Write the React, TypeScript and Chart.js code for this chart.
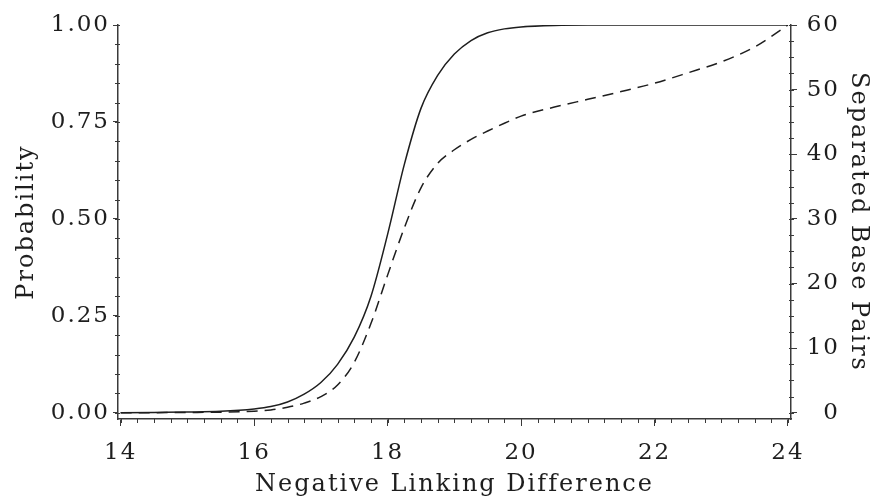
import React, { useEffect, useRef } from "react";
import { Chart, registerables } from "chart.js";

Chart.register(...registerables);

// ---- data ----
const X_VALUES = [14, 14.5, 15, 15.5, 16, 16.25, 16.5, 16.75, 17, 17.25, 17.5, 17.75, 18, 18.25, 18.5, 18.75, 19, 19.25, 19.5, 19.75, 20, 20.5, 21, 21.5, 22, 22.5, 23, 23.5, 24];
const PROBABILITY = [0, 0.001, 0.002, 0.004, 0.01, 0.016, 0.028, 0.048, 0.078, 0.125, 0.195, 0.3, 0.46, 0.64, 0.785, 0.87, 0.925, 0.96, 0.98, 0.99, 0.995, 0.999, 1, 1, 1, 1, 1, 1, 1];
const BASE_PAIRS = [0, 0.02, 0.05, 0.1, 0.25, 0.45, 0.85, 1.5, 2.5, 4.3, 7.8, 13.8, 21.3, 28.6, 34.8, 38.6, 40.7, 42.3, 43.6, 44.8, 45.9, 47.3, 48.5, 49.7, 51.0, 52.6, 54.3, 56.6, 60];

const X_TICKS = [14, 16, 18, 20, 22, 24];
const PROB_TICKS = [0, 0.25, 0.5, 0.75, 1];
const BP_TICKS = [0, 10, 20, 30, 40, 50, 60];

const X_TITLE = "Negative Linking Difference";
const LEFT_TITLE = "Probability";
const RIGHT_TITLE = "Separated Base Pairs";

const INK = "#1e1e1e";
const AXIS = "#3a3a3a";
const FONT = "'DejaVu Serif', 'Liberation Serif', serif";
const SPACING = "2px";

const letterSpacing = {
  id: "letterSpacing",
  beforeUpdate(chart: any) {
    (chart.ctx as any).letterSpacing = SPACING;
  },
  beforeLayout(chart: any) {
    (chart.ctx as any).letterSpacing = SPACING;
  },
  beforeDraw(chart: any) {
    (chart.ctx as any).letterSpacing = SPACING;
  },
};

const minorTicks = {
  id: "minorTicks",
  afterDraw(chart: any) {
    const { ctx, chartArea, scales } = chart;
    ctx.save();
    ctx.strokeStyle = AXIS;
    ctx.lineWidth = 1;
    ctx.beginPath();
    for (let i = 0; i <= 40; i++) {
      const v = 14 + i * 0.25;
      const px = Math.round(scales.x.getPixelForValue(v)) + 0.5;
      ctx.moveTo(px, chartArea.bottom);
      ctx.lineTo(px, chartArea.bottom + 4);
    }
    for (let i = 0; i <= 20; i++) {
      const v = i * 0.05;
      const py = Math.round(scales.y.getPixelForValue(v)) + 0.5;
      ctx.moveTo(chartArea.left - 3, py);
      ctx.lineTo(chartArea.left + 2, py);
    }
    for (let i = 0; i <= 24; i++) {
      const v = i * 2.5;
      const py = Math.round(scales.y2.getPixelForValue(v)) + 0.5;
      ctx.moveTo(chartArea.right - 2, py);
      ctx.lineTo(chartArea.right + 3, py);
    }
    ctx.stroke();
    ctx.restore();
  },
};

export default function App() {
  const canvasRef = useRef<HTMLCanvasElement | null>(null);

  useEffect(() => {
    const canvas = canvasRef.current;
    if (!canvas) return;
    const tickFont = { family: FONT, size: 23, lineHeight: 1 };
    const titleFont = { family: FONT, size: 24, lineHeight: 1 };

    const chart = new Chart(canvas, {
      type: "line",
      data: {
        datasets: [
          {
            label: "Probability",
            data: X_VALUES.map((x, i) => ({ x, y: PROBABILITY[i] })),
            yAxisID: "y",
            borderColor: INK,
            borderWidth: 1.5,
            pointRadius: 0,
            cubicInterpolationMode: "monotone",
            fill: false,
          },
          {
            label: "Separated Base Pairs",
            data: X_VALUES.map((x, i) => ({ x, y: BASE_PAIRS[i] })),
            yAxisID: "y2",
            borderColor: INK,
            borderWidth: 1.5,
            borderDash: [11, 7],
            pointRadius: 0,
            cubicInterpolationMode: "monotone",
            fill: false,
          },
        ],
      },
      options: {
        animation: false,
        responsive: false,
        devicePixelRatio: 1,
        layout: { padding: { top: 25, left: 0, right: 32, bottom: 0 } },
        plugins: {
          legend: { display: false },
          tooltip: { enabled: false },
        },
        scales: {
          x: {
            type: "linear",
            position: "bottom",
            min: 13.96,
            max: 24.045,
            afterBuildTicks: (s: any) => {
              s.ticks = X_TICKS.map((v) => ({ value: v }));
            },
            afterFit: (s: any) => {
              s.height = 81;
            },
            grid: { drawOnChartArea: false, drawTicks: true, tickLength: 7, color: AXIS },
            border: { display: true, color: AXIS, width: 1.5 },
            ticks: {
              color: INK,
              font: tickFont,
              padding: 16,
              maxRotation: 0,
              autoSkip: false,
              callback: (v: any) => String(v),
            },
            title: { display: true, text: X_TITLE, color: INK, font: titleFont, padding: { top: 0, bottom: 3 } },
          },
          y: {
            type: "linear",
            position: "left",
            min: -0.016,
            max: 1.0,
            afterBuildTicks: (s: any) => {
              s.ticks = PROB_TICKS.map((v) => ({ value: v }));
            },
            afterFit: (s: any) => {
              s.width = 118;
            },
            grid: { drawOnChartArea: false, drawTicks: true, tickLength: 5, color: AXIS },
            border: { display: true, color: AXIS, width: 1.5 },
            ticks: {
              color: INK,
              font: tickFont,
              padding: 3,
              autoSkip: false,
              callback: (v: any) => Number(v).toFixed(2),
            },
            title: { display: true, text: LEFT_TITLE, color: INK, font: titleFont, padding: { top: 15, bottom: 0 } },
          },
          y2: {
            type: "linear",
            position: "right",
            min: -0.96,
            max: 60,
            afterBuildTicks: (s: any) => {
              s.ticks = BP_TICKS.map((v) => ({ value: v }));
            },
            afterFit: (s: any) => {
              s.width = 49;
            },
            grid: { drawOnChartArea: false, drawTicks: true, tickLength: 6, color: AXIS },
            border: { display: true, color: AXIS, width: 1.5 },
            ticks: {
              color: INK,
              font: tickFont,
              padding: 10,
              crossAlign: "far",
              autoSkip: false,
              callback: (v: any) => String(v),
            },
            title: { display: true, text: RIGHT_TITLE, color: INK, font: titleFont, padding: { top: -30, bottom: 0 } },
          },
        },
      },
      plugins: [letterSpacing, minorTicks],
    } as any);

    return () => chart.destroy();
  }, []);

  return (
    <div style={{ position: "fixed", left: 0, top: 0, width: 872, height: 500, background: "#fff" }}>
      <canvas ref={canvasRef} width={872} height={500} style={{ display: "block", width: 872, height: 500 }} />
    </div>
  );
}
